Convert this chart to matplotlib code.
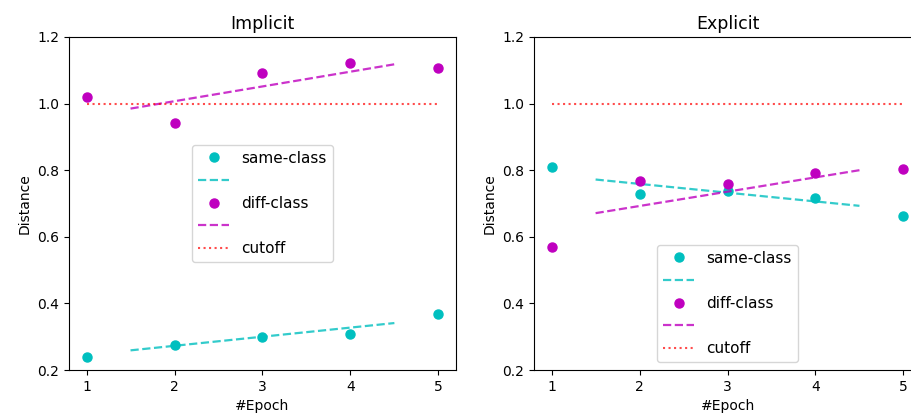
import numpy as np
import matplotlib
matplotlib.use("Agg")
import matplotlib.pyplot as plt

epochs = [1, 2, 3, 4, 5]

# Implicit panel
implicit_same = [0.239, 0.276, 0.299, 0.309, 0.367]
implicit_diff = [1.020, 0.942, 1.093, 1.121, 1.107]
implicit_same_trend = [0.259, 0.341]
implicit_diff_trend = [0.985, 1.118]

# Explicit panel
explicit_same = [0.809, 0.730, 0.738, 0.717, 0.662]
explicit_diff = [0.569, 0.767, 0.759, 0.791, 0.804]
explicit_same_trend = [0.772, 0.693]
explicit_diff_trend = [0.671, 0.800]

trend_x = [1.5, 4.5]
cutoff_x = [1, 5]
cutoff = [1.0, 1.0]
yticks = [0.2, 0.4, 0.6, 0.8, 1.0, 1.2]

fig = plt.figure(figsize=(9.11, 4.17), dpi=100)
ax1 = fig.add_axes([0.0757, 0.1127, 0.4248, 0.7986])
ax2 = fig.add_axes([0.5862, 0.1127, 0.4248, 0.7986])

panels = [
    (ax1, "Implicit", implicit_same, implicit_same_trend,
     implicit_diff, implicit_diff_trend, "center"),
    (ax2, "Explicit", explicit_same, explicit_same_trend,
     explicit_diff, explicit_diff_trend, "lower center"),
]

for ax, title, same, same_tr, diff, diff_tr, loc in panels:
    ax.plot(epochs, same, "o", color="c", markersize=6.5, label="same-class")
    ax.plot(trend_x, same_tr, "--", color="c", alpha=0.8, lw=1.6, label=" ")
    ax.plot(epochs, diff, "o", color="m", markersize=6.5, label="diff-class")
    ax.plot(trend_x, diff_tr, "--", color="m", alpha=0.8, lw=1.6, label=" ")
    ax.plot(cutoff_x, cutoff, ":", color="r", alpha=0.7, lw=1.5, label="cutoff")
    ax.set_ylim(0.2, 1.2)
    ax.set_yticks(yticks)
    ax.set_xticks(epochs)
    ax.set_title(title, fontsize=12.5)
    ax.set_xlabel("#Epoch")
    ax.set_ylabel("Distance")
    ax.legend(loc=loc, fontsize=11)

fig.savefig("out.png", dpi=100)
